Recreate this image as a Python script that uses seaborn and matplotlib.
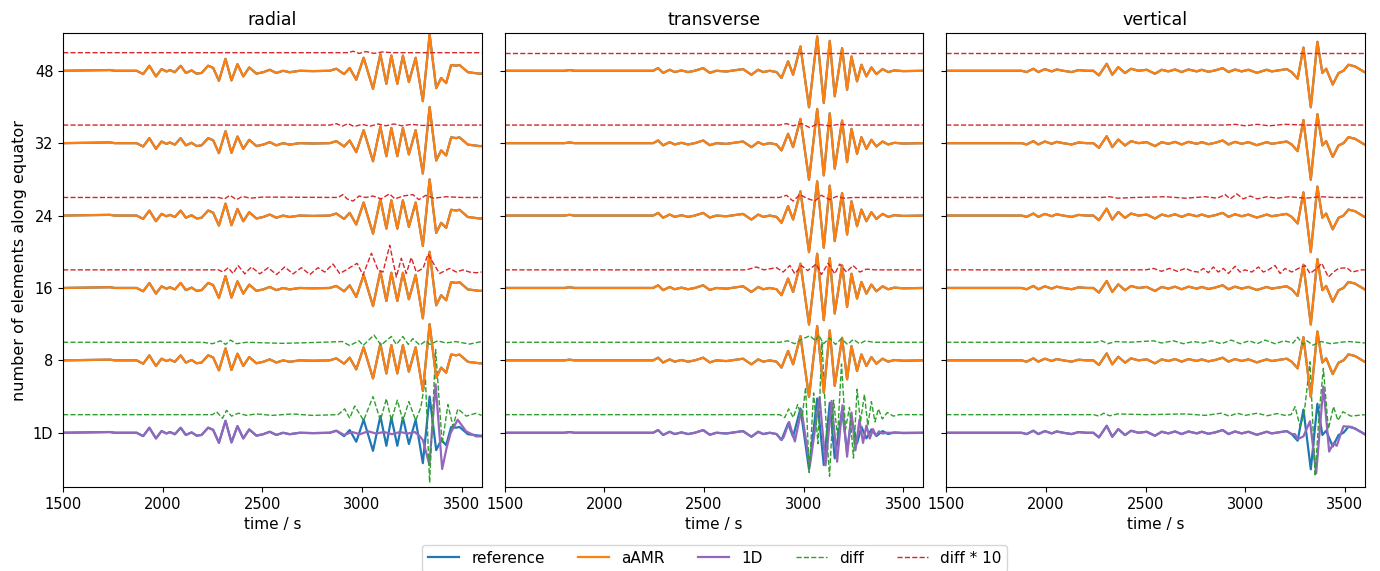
import numpy as np
import matplotlib
matplotlib.use("Agg")
import matplotlib.pyplot as plt
import seaborn as sns
from matplotlib.lines import Line2D

# rows from bottom to top, one seismogram per row
ROW_LABELS = ["1D", "8", "16", "24", "32", "48"]
COMPONENTS = ["radial", "transverse", "vertical"]
DIFF_SHIFT = 0.25

# (time / s, amplitude in row units), extrema of each trace
RAD_REF = [(1500, 0), (1735, 0.01), (1760, 0), (1869, 0), (1902, -0.046), (1933, 0.069), (1966, -0.078),
           (1994, 0.023), (2019, -0.01), (2036, 0.01), (2061, -0.02), (2090, 0.069), (2116, -0.03),
           (2145, 0.005), (2170, -0.04), (2195, -0.03), (2228, 0.07), (2253, 0.04), (2282, -0.138),
           (2315, 0.165), (2345, -0.133), (2375, 0.092), (2404, -0.078), (2434, 0.046), (2470, -0.04),
           (2504, -0.02), (2537, 0.014), (2570, -0.03), (2604, 0.0), (2637, -0.02), (2687, 0.0),
           (2754, -0.005), (2838, 0.0), (2871, 0.028), (2910, -0.046), (2938, 0.037), (2971, -0.124),
           (3008, 0.18), (3055, -0.25), (3092, 0.23), (3122, -0.18), (3147, 0.21), (3177, -0.18),
           (3205, 0.21), (3235, -0.156), (3269, 0.18), (3305, -0.42), (3339, 0.50), (3372, -0.24),
           (3397, -0.10), (3422, -0.17), (3447, 0.08), (3472, 0.07), (3489, 0.08), (3531, -0.02),
           (3589, -0.04), (3600, -0.04)]
RAD_1D = [(2910, -0.03), (2950, 0.01), (2990, -0.02), (3030, 0.02), (3070, -0.01), (3110, 0.01),
          (3150, -0.02), (3190, 0.01), (3230, -0.01), (3265, 0.01), (3290, -0.05), (3305, -0.1),
          (3338, -0.44), (3369, 0.67), (3402, -0.5), (3425, -0.2), (3445, 0.0), (3480, 0.18),
          (3522, 0.02), (3572, -0.05), (3600, -0.05)]
RAD_DIFF_1D = [(1500, 0), (2250, 0), (2270, 0.04), (2300, -0.05), (2320, 0.06), (2345, -0.02),
               (2380, 0.02), (2420, -0.01), (2470, 0.01), (2550, -0.01), (2650, 0.01), (2750, -0.01),
               (2880, 0.0), (2913, 0.08), (2938, -0.05), (2963, 0.12), (3008, -0.08), (3055, 0.25),
               (3092, -0.08), (3122, 0.22), (3147, -0.08), (3177, 0.2), (3205, -0.08), (3235, 0.18),
               (3269, -0.08), (3295, 0.1), (3318, 0.5), (3339, -0.94), (3369, 0.9), (3402, -0.4),
               (3431, 0.14), (3456, -0.16), (3481, 0.08), (3523, -0.02), (3573, 0.02), (3600, -0.01)]
RAD_DIFF_8 = [(1500, 0), (2200, 0), (2250, -0.02), (2290, 0.02), (2315, -0.03), (2340, 0.03),
              (2370, -0.02), (2420, 0.0), (2600, -0.015), (2800, 0), (2900, 0.01), (2938, -0.045),
              (2985, 0.02), (3005, -0.045), (3060, 0.1), (3095, -0.04), (3147, 0.08), (3172, -0.03),
              (3205, 0.08), (3232, -0.03), (3255, 0.05), (3290, -0.04), (3320, 0.02), (3340, -0.03),
              (3380, 0.02), (3420, -0.01), (3470, 0.01), (3539, -0.025), (3600, 0.01)]
RAD_DIFF_16 = [(1500, 0), (2280, 0), (2303, -0.03), (2328, 0.03), (2353, -0.05), (2378, 0.06),
               (2412, -0.055), (2445, 0.04), (2487, -0.055), (2529, 0.03), (2571, -0.065), (2612, 0.04),
               (2654, -0.055), (2696, 0.03), (2738, -0.065), (2779, 0.03), (2813, -0.03), (2854, 0.08),
               (2888, -0.05), (2921, 0.0), (2950, 0.05), (2975, 0.09), (3005, -0.07), (3047, 0.23),
               (3080, 0.0), (3105, -0.03), (3139, 0.34), (3172, -0.1), (3197, 0.16), (3222, -0.05),
               (3247, 0.17), (3272, -0.03), (3306, 0.02), (3331, 0.22), (3356, 0.1), (3389, -0.05),
               (3439, 0.02), (3473, -0.03), (3506, 0.0), (3539, -0.03), (3573, -0.04), (3600, -0.03)]
RAD_DIFF_24 = [(1500, 0), (2280, 0), (2310, -0.02), (2337, 0.03), (2370, -0.03), (2400, 0.015),
               (2440, -0.01), (2500, 0.005), (2880, 0), (2904, 0.04), (2925, -0.02), (2955, -0.05),
               (2985, 0.02), (3020, 0.0), (3055, 0.02), (3095, -0.02), (3138, 0.05), (3165, -0.02),
               (3205, 0.02), (3255, 0.04), (3285, -0.03), (3320, 0.03), (3360, -0.01), (3420, 0.01),
               (3500, 0), (3600, 0)]
RAD_DIFF_32 = [(1500, 0), (2840, 0), (2871, 0.02), (2900, -0.015), (2930, 0.02), (2960, -0.02),
               (3000, 0.01), (3040, -0.015), (3080, 0.015), (3120, -0.01), (3160, 0.015), (3200, -0.01),
               (3250, 0.01), (3300, -0.005), (3400, 0), (3600, 0)]
RAD_DIFF_48 = [(1500, 0), (2930, 0), (2955, 0.02), (2985, -0.01), (3020, 0.015), (3060, -0.01),
               (3100, 0.01), (3150, 0), (3600, 0)]

TRA_REF = [(1500, 0), (1800, 0), (1826, 0.01), (1850, 0), (2245, 0), (2270, 0.037), (2295, -0.03),
           (2328, 0.014), (2353, -0.018), (2387, 0.005), (2420, -0.018), (2454, 0.0), (2496, 0.037),
           (2529, -0.028), (2562, 0.0), (2612, -0.01), (2663, 0.01), (2696, 0.023), (2738, -0.055),
           (2772, 0.014), (2797, -0.018), (2830, 0.0), (2864, -0.018), (2889, -0.1), (2922, 0.13),
           (2947, -0.055), (2984, 0.335), (3027, -0.505), (3068, 0.473), (3101, -0.445), (3131, 0.413),
           (3156, -0.353), (3193, 0.312), (3218, -0.262), (3240, 0.197), (3268, -0.147), (3290, 0.083),
           (3315, -0.078), (3340, 0.046), (3365, -0.046), (3396, 0.023), (3424, -0.018), (3455, 0.005),
           (3500, -0.005), (3600, 0)]
TRA_1D = [(2900, -0.06), (2927, 0.15), (2956, -0.12), (2989, 0.32), (3031, -0.46), (3080, 0.49),
          (3110, -0.45), (3140, 0.44), (3168, -0.4), (3195, 0.38), (3218, -0.33), (3240, 0.28),
          (3260, -0.24), (3280, 0.18), (3298, -0.14), (3315, 0.1), (3332, -0.08), (3348, 0.05),
          (3363, -0.04), (3378, 0.02), (3395, -0.01), (3420, 0), (3600, 0)]
TRA_DIFF_1D = [(1500, 0), (2880, 0), (2905, -0.04), (2925, 0.08), (2948, -0.04), (2970, 0.14),
               (2992, -0.05), (3010, 0.38), (3028, -0.8), (3050, 0.3), (3072, -0.4), (3092, 1.0),
               (3114, -0.2), (3130, -0.85), (3150, 0.2), (3170, -0.3), (3190, 0.7), (3210, -0.2),
               (3230, 0.1), (3250, -0.6), (3268, 0.35), (3285, -0.1), (3305, 0.28), (3322, -0.15),
               (3340, 0.18), (3358, -0.1), (3375, 0.08), (3395, -0.06), (3420, 0.03), (3450, -0.02),
               (3480, 0), (3600, 0)]
TRA_DIFF_8 = [(1500, 0), (2880, 0), (2920, 0.02), (2955, -0.02), (2990, 0.04), (3031, 0.09),
              (3060, 0.02), (3075, 0.1), (3100, -0.02), (3130, 0.06), (3160, -0.03), (3190, 0.05),
              (3220, -0.03), (3250, 0.04), (3280, -0.02), (3310, 0.02), (3350, 0), (3600, 0)]
TRA_DIFF_16 = [(1500, 0), (2713, 0), (2763, 0.04), (2800, 0.0), (2864, 0.03), (2897, -0.03),
               (2931, 0.06), (2956, -0.055), (2989, 0.06), (3020, -0.01), (3064, 0.08), (3089, -0.065),
               (3123, 0.09), (3156, -0.055), (3181, 0.08), (3215, -0.03), (3248, 0.06), (3282, -0.03),
               (3315, 0.01), (3360, 0), (3600, 0)]
TRA_DIFF_24 = [(1500, 0), (2880, 0), (2914, 0.03), (2947, -0.05), (2981, 0.04), (3015, -0.01),
               (3056, -0.05), (3089, 0.03), (3131, -0.03), (3165, 0.015), (3200, -0.01), (3250, 0),
               (3600, 0)]
TRA_DIFF_32 = [(1500, 0), (2880, 0), (2914, 0.02), (2947, -0.01), (2990, 0.02), (3031, -0.035),
               (3064, 0.01), (3131, -0.01), (3181, 0.01), (3230, 0), (3600, 0)]
TRA_DIFF_48 = [(1500, 0), (3600, 0)]

VER_REF = [(1500, 0), (1878, 0), (1903, -0.018), (1937, 0.028), (1962, -0.018), (1995, 0.023),
           (2029, -0.009), (2054, 0.018), (2087, 0), (2129, -0.018), (2163, 0.009), (2204, 0), (2238, 0),
           (2266, -0.064), (2305, 0.096), (2333, -0.055), (2363, 0.05), (2397, -0.032), (2427, 0.028),
           (2464, 0), (2506, 0.014), (2547, -0.041), (2581, 0.014), (2614, -0.009), (2648, 0.018),
           (2681, -0.018), (2715, 0.018), (2757, -0.009), (2782, 0.014), (2815, -0.014), (2849, 0.005),
           (2887, 0.037), (2916, -0.018), (2949, 0.018), (2982, -0.009), (3016, 0.014), (3058, -0.028),
           (3108, 0.014), (3133, -0.009), (3166, 0.005), (3208, 0.023), (3233, -0.018), (3263, -0.11),
           (3292, 0.32), (3329, -0.505), (3362, 0.40), (3387, -0.03), (3406, 0.028), (3439, -0.19),
           (3468, -0.032), (3493, 0), (3518, 0.083), (3551, 0.06), (3598, -0.018), (3600, -0.02)]
VER_1D = [(3250, -0.02), (3263, -0.09), (3292, -0.05), (3325, 0.16), (3356, -0.56), (3392, 0.64),
          (3421, -0.26), (3443, -0.14), (3459, -0.18), (3493, 0.09), (3534, 0.08), (3598, -0.015),
          (3600, -0.02)]
VER_DIFF_1D = [(1500, 0), (2240, 0), (2266, -0.02), (2290, 0.02), (2320, -0.015), (2360, 0.01),
               (2500, 0), (2700, 0.01), (2800, -0.01), (2880, 0.02), (2920, -0.02), (2960, 0.02),
               (3000, -0.01), (3060, 0.02), (3110, -0.015), (3160, 0.015), (3200, -0.01), (3230, 0.0),
               (3250, 0.11), (3275, -0.16), (3295, 0.0), (3325, 0.73), (3351, -0.85), (3370, 0.0),
               (3392, 0.64), (3417, -0.2), (3443, 0.11), (3465, -0.08), (3490, 0.04), (3530, -0.02),
               (3600, 0)]
VER_DIFF_8 = [(1500, 0), (2250, 0), (2280, 0.02), (2310, -0.02), (2350, 0.01), (2420, 0), (2540, 0.02),
              (2580, -0.01), (2640, 0.02), (2690, -0.02), (2740, 0.01), (2790, -0.01), (2830, 0.02),
              (2880, -0.02), (2930, 0.03), (2975, -0.02), (3020, 0.02), (3060, -0.02), (3100, 0.03),
              (3150, -0.02), (3195, 0.02), (3240, -0.01), (3263, 0.07), (3290, -0.03), (3310, 0.02),
              (3340, -0.04), (3380, 0.01), (3430, -0.02), (3480, 0.0), (3520, 0.01), (3600, -0.01)]
VER_DIFF_16 = [(1500, 0), (2500, 0), (2540, 0.02), (2580, -0.02), (2620, 0.02), (2660, -0.02),
               (2700, 0.02), (2735, -0.02), (2765, -0.03), (2790, 0.02), (2815, -0.04), (2840, 0.04),
               (2865, -0.03), (2890, 0.02), (2916, -0.05), (2949, 0.05), (2974, -0.03), (2999, 0.0),
               (3033, -0.03), (3066, 0.04), (3091, -0.03), (3116, 0.0), (3150, 0.06), (3175, -0.05),
               (3200, 0.02), (3233, -0.03), (3267, 0.02), (3300, 0.06), (3325, -0.05), (3359, 0.02),
               (3384, 0.09), (3417, -0.1), (3443, -0.03), (3468, 0.02), (3509, 0.03), (3535, -0.03),
               (3585, 0.0), (3600, 0)]
VER_DIFF_24 = [(1500, 0), (2280, 0), (2320, 0.01), (2360, -0.01), (2450, 0), (2600, 0.01), (2700, -0.01),
               (2800, 0.01), (2860, -0.01), (2899, 0.04), (2925, -0.02), (2957, 0.05), (2990, -0.02),
               (3025, 0.02), (3060, -0.02), (3110, 0.01), (3160, -0.01), (3220, 0.01), (3300, -0.01),
               (3380, 0.01), (3450, 0), (3600, 0)]
VER_DIFF_32 = [(1500, 0), (2900, 0), (2950, 0.01), (3000, -0.01), (3060, 0.01), (3120, -0.01),
               (3200, 0.01), (3300, 0), (3600, 0)]
VER_DIFF_48 = [(1500, 0), (3600, 0)]

C_REF, C_AMR, C_1D, C_DIFF, C_DIFF10 = "#1f77b4", "#ff7f0e", "#9467bd", "#2ca02c", "#d62728"

plt.rcParams["font.size"] = 11
plt.rcParams["xtick.labelsize"] = 10.5
plt.rcParams["ytick.labelsize"] = 10.5


def trace(ax, pts, offset, color, lw=1.6, ls="-"):
    pts = np.asarray(pts, dtype=float)
    sns.lineplot(x=pts[:, 0], y=pts[:, 1] + offset, ax=ax, sort=False, estimator=None,
                 color=color, lw=lw, linestyle=ls, legend=False)


panels = [
    (RAD_REF, RAD_1D, [RAD_DIFF_1D, RAD_DIFF_8, RAD_DIFF_16, RAD_DIFF_24, RAD_DIFF_32, RAD_DIFF_48]),
    (TRA_REF, TRA_1D, [TRA_DIFF_1D, TRA_DIFF_8, TRA_DIFF_16, TRA_DIFF_24, TRA_DIFF_32, TRA_DIFF_48]),
    (VER_REF, VER_1D, [VER_DIFF_1D, VER_DIFF_8, VER_DIFF_16, VER_DIFF_24, VER_DIFF_32, VER_DIFF_48]),
]

fig, axes = plt.subplots(1, 3, figsize=(13.8, 5.71), dpi=100, sharey=True)
fig.subplots_adjust(left=0.0457, right=0.989, bottom=0.147, top=0.942, wspace=0.055)

for ax, name, (ref, one_d, diffs) in zip(axes, COMPONENTS, panels):
    # 1D follows the reference until it departs from it
    one_d_full = [p for p in ref if p[0] < one_d[0][0]] + one_d
    for row in range(len(ROW_LABELS)):
        trace(ax, ref, row, C_REF)
        if row == 0:
            trace(ax, one_d_full, row, C_1D)
        else:
            # aAMR is indistinguishable from the reference at this scale
            trace(ax, ref, row, C_AMR)
        diff_color = C_DIFF if row < 2 else C_DIFF10
        trace(ax, diffs[row], row + DIFF_SHIFT, diff_color, lw=1.0, ls="--")
    ax.set_title(name, fontsize=12.5)
    ax.set_xlim(1500, 3600)
    ax.set_xticks([1500, 2000, 2500, 3000, 3500])
    ax.set_xlabel("time / s")

axes[0].set_ylim(-0.75, 5.52)
axes[0].set_yticks(range(len(ROW_LABELS)))
axes[0].set_yticklabels(ROW_LABELS)
axes[0].set_ylabel("number of elements along equator", fontsize=11.5)

handles = [Line2D([], [], color=C_REF, lw=1.6), Line2D([], [], color=C_AMR, lw=1.6),
           Line2D([], [], color=C_1D, lw=1.6), Line2D([], [], color=C_DIFF, lw=1.0, ls="--"),
           Line2D([], [], color=C_DIFF10, lw=1.0, ls="--")]
fig.legend(handles, ["reference", "aAMR", "1D", "diff", "diff * 10"], loc="lower center",
           ncol=5, bbox_to_anchor=(0.518, -0.015), columnspacing=2.2, fontsize=11)

fig.savefig("out.png", dpi=100)
